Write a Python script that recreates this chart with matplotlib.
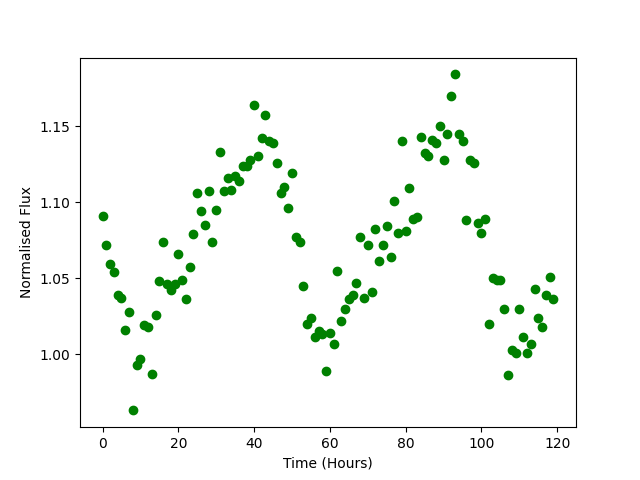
import matplotlib
matplotlib.use("Agg")
import matplotlib.pyplot as plt
import numpy as np

hours = list(range(120))
flux = [
    1.091, 1.072, 1.059, 1.054, 1.039, 1.037, 1.016, 1.028, 0.963, 0.993,
    0.997, 1.019, 1.018, 0.987, 1.026, 1.048, 1.074, 1.046, 1.042, 1.046,
    1.066, 1.049, 1.036, 1.057, 1.079, 1.106, 1.094, 1.085, 1.107, 1.074,
    1.095, 1.133, 1.107, 1.116, 1.108, 1.117, 1.114, 1.124, 1.124, 1.128,
    1.164, 1.130, 1.142, 1.157, 1.140, 1.139, 1.126, 1.106, 1.110, 1.096,
    1.119, 1.077, 1.074, 1.045, 1.020, 1.024, 1.011, 1.015, 1.013, 0.989,
    1.014, 1.007, 1.055, 1.022, 1.030, 1.036, 1.039, 1.047, 1.077, 1.037,
    1.072, 1.041, 1.082, 1.061, 1.072, 1.084, 1.064, 1.101, 1.080, 1.140,
    1.081, 1.109, 1.089, 1.090, 1.143, 1.132, 1.130, 1.141, 1.139, 1.150,
    1.128, 1.145, 1.170, 1.184, 1.145, 1.140, 1.088, 1.128, 1.126, 1.086,
    1.080, 1.089, 1.020, 1.050, 1.049, 1.049, 1.030, 0.986, 1.003, 1.001,
    1.030, 1.011, 1.001, 1.007, 1.043, 1.024, 1.018, 1.039, 1.051, 1.036,
]

fig, ax = plt.subplots(figsize=(6.4, 4.8), dpi=100)
ax.plot(hours, flux, 'o', color='green')
ax.set_xlabel("Time (Hours)")
ax.set_ylabel("Normalised Flux")
fig.savefig("out.png")
